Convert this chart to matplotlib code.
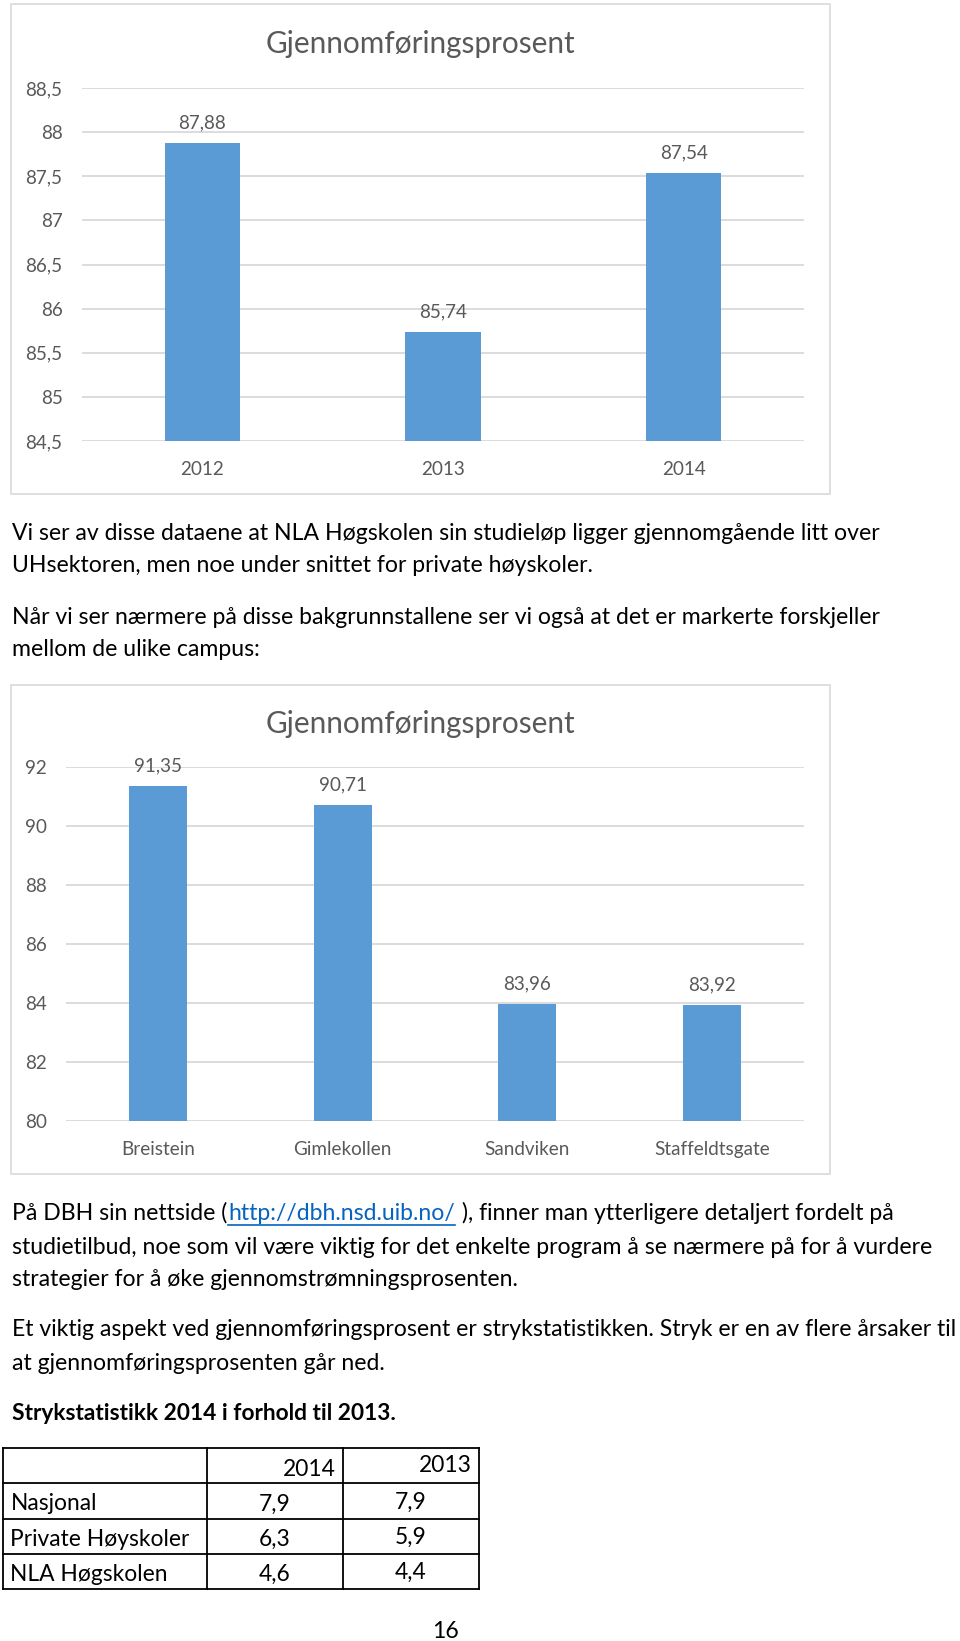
import matplotlib
matplotlib.use('Agg')
import matplotlib.pyplot as plt
from matplotlib.patches import Rectangle
from matplotlib.lines import Line2D

plt.rcParams['font.family'] = ['Lato', 'DejaVu Sans']

W, H = 960, 1641

# chart 1: per year
years = ['2012', '2013', '2014']
rate_by_year = [87.88, 85.74, 87.54]
year_ticks = [84.5, 85, 85.5, 86, 86.5, 87, 87.5, 88, 88.5]

# chart 2: per campus
campuses = ['Breistein', 'Gimlekollen', 'Sandviken', 'Staffeldtsgate']
rate_by_campus = [91.35, 90.71, 83.96, 83.92]
campus_ticks = [80, 82, 84, 86, 88, 90, 92]

# fail statistics table
table_rows = ['Nasjonal', 'Private Høyskoler', 'NLA Høgskolen']
table_cols = ['2014', '2013']
fail_2014 = [7.9, 6.3, 4.6]
fail_2013 = [7.9, 5.9, 4.4]

GREY = '#595959'
LINE = '#d9d9d9'
BLUE = '#5b9bd5'
BODY = 16.6

fig = plt.figure(figsize=(W / 100, H / 100), dpi=100)


def put(x, y, s, **kw):
    # x, y in pixels from the top left corner (y shifted a bit for the descender box)
    kw.setdefault('va', 'center')
    kw.setdefault('fontsize', BODY)
    return fig.text(x / W, 1 - (y + 2) / H, s, **kw)


def comma(v, fmt='%g'):
    return (fmt % v).replace('.', ',')


def bar_chart(box, area, title_y, cats, vals, ticks):
    x0, y0, x1, y1 = box
    fig.add_artist(Rectangle((x0 / W, 1 - y1 / H), (x1 - x0) / W, (y1 - y0) / H,
                             transform=fig.transFigure, fill=False, ec=LINE, lw=1.2))
    left, top, right, bottom = area
    ax = fig.add_axes([left / W, 1 - bottom / H, (right - left) / W, (bottom - top) / H])
    pos = range(len(cats))
    ax.bar(pos, vals, width=0.313, color=BLUE, zorder=3)
    ax.set_xlim(-0.5, len(cats) - 0.5)
    ax.set_ylim(ticks[0], ticks[-1])
    ax.set_yticks(ticks)
    ax.set_yticklabels([comma(t) for t in ticks])
    ax.set_xticks(list(pos))
    ax.set_xticklabels(cats)
    ax.grid(axis='y', color=LINE, lw=1.3, zorder=0)
    ax.set_axisbelow(True)
    for s in ax.spines.values():
        s.set_visible(False)
    ax.tick_params(axis='y', length=0, colors=GREY, labelsize=13.6, pad=14)
    ax.tick_params(axis='x', length=0, colors=GREY, labelsize=13.6, pad=14.5)
    for p, v in zip(pos, vals):
        ax.annotate(comma(v, '%.2f'), (p, v), xytext=(0, 14.5), textcoords='offset points',
                    ha='center', va='center', color=GREY, fontsize=13.6)
    put(420, title_y, 'Gjennomføringsprosent', ha='center', color=GREY, fontsize=21.4)
    return ax


bar_chart((10.5, 4, 830, 494), (82, 88, 804, 441), 42, years, rate_by_year, year_ticks)

put(11.5, 531, 'Vi ser av disse dataene at NLA Høgskolen sin studieløp ligger gjennomgående litt over')
put(11.5, 564, 'UHsektoren, men noe under snittet for private høyskoler.')
put(11.5, 616, 'Når vi ser nærmere på disse bakgrunnstallene ser vi også at det er markerte forskjeller')
put(11.5, 648, 'mellom de ulike campus:')

bar_chart((10.5, 685, 830, 1174), (66, 767, 804, 1121), 722, campuses, rate_by_campus, campus_ticks)

# line with a hyperlink in it
renderer = fig.canvas.get_renderer()
x = 11.5
for piece, color in [('På DBH sin nettside (', 'black'), ('http://dbh.nsd.uib.no/', '#0563c1'),
                     (' ), finner man ytterligere detaljert fordelt på', 'black')]:
    t = put(x, 1211, piece, color=color)
    bb = t.get_window_extent(renderer)
    if color != 'black':
        fig.add_artist(Line2D([bb.x0 / W, bb.x1 / W], [1 - 1225 / H] * 2,
                              transform=fig.transFigure, color=color, lw=1.2))
    x = bb.x1 + 1

put(11.5, 1245, 'studietilbud, noe som vil være viktig for det enkelte program å se nærmere på for å vurdere')
put(11.5, 1277, 'strategier for å øke gjennomstrømningsprosenten.')
put(11.5, 1328, 'Et viktig aspekt ved gjennomføringsprosent er strykstatistikken. Stryk er en av flere årsaker til')
put(11.5, 1362, 'at gjennomføringsprosenten går ned.')
put(11.5, 1412, 'Strykstatistikk 2014 i forhold til 2013.', fontweight='bold', fontsize=16.4)

# table
tx = [3, 207, 343, 479]
ty = [1448, 1483, 1519, 1554, 1589]
for xx in tx:
    fig.add_artist(Line2D([xx / W] * 2, [1 - ty[0] / H, 1 - ty[-1] / H],
                          transform=fig.transFigure, color='black', lw=1.3))
for yy in ty:
    fig.add_artist(Line2D([tx[0] / W, tx[-1] / W], [1 - yy / H] * 2,
                          transform=fig.transFigure, color='black', lw=1.3))

TABLE = 16.4
put(tx[2] - 7, 1468, table_cols[0], ha='right', fontsize=TABLE)
put(tx[3] - 7, 1464, table_cols[1], ha='right', fontsize=TABLE)
for i, name in enumerate(table_rows):
    yc = (ty[i + 1] + ty[i + 2]) / 2 + 1
    put(10.5, yc, name, fontsize=TABLE)
    put((tx[1] + tx[2]) / 2, yc, comma(fail_2014[i], '%.1f'), ha='center', fontsize=TABLE)
    put((tx[2] + tx[3]) / 2, yc - 2, comma(fail_2013[i], '%.1f'), ha='center', fontsize=TABLE)

put(445, 1630, '16', ha='center', fontsize=BODY)

fig.savefig('out.png', dpi=100)
